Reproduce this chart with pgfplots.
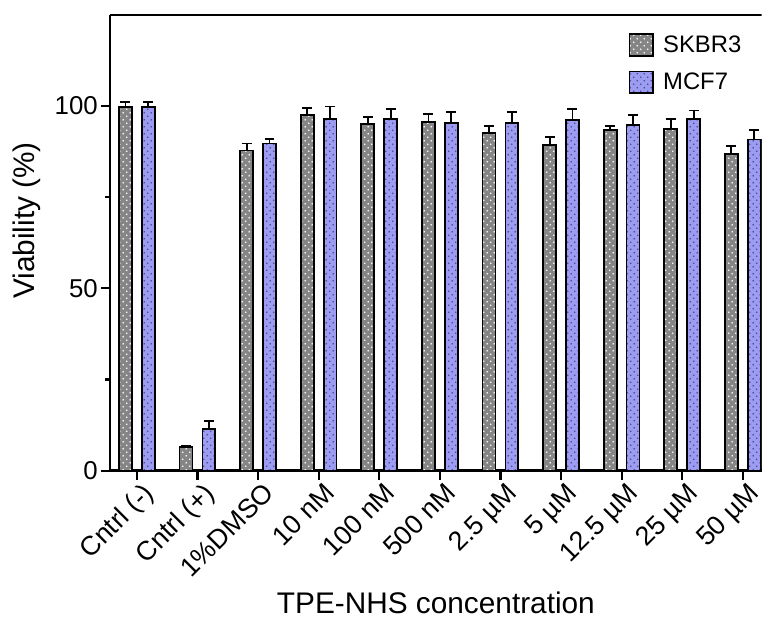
\documentclass[border=0pt]{standalone}
\usepackage{pgfplots}
\usepackage{pgfplotstable}
\pgfplotsset{compat=1.18}
\usepackage{fontspec}
\setmainfont{Liberation Sans}
\usetikzlibrary{patterns.meta}
\definecolor{barGray}{HTML}{858585}
\definecolor{barBlue}{HTML}{9C9CF2}
\definecolor{dotBlue}{HTML}{4A4A8A}
\tikzdeclarepattern{
  name=mydots,
  type=uncolored,
  bottom left={(0pt,0pt)},
  top right={(7pt,7pt)},
  tile size={(7pt,7pt)},
  code={\fill (1.75pt,1.75pt) circle (0.9pt); \fill (5.25pt,5.25pt) circle (0.9pt);}
}
\pgfplotstableread{
x y e
0 99.7 1.5
1 6.5 0.3
2 87.8 1.9
3 97.6 1.9
4 95.1 1.9
5 95.7 2.1
6 92.7 1.9
7 89.4 2.2
8 93.5 1.1
9 93.8 2.6
10 86.8 2.3
}\skbr
\pgfplotstableread{
x y e
0 99.7 1.3
1 11.4 2.2
2 89.7 1.3
3 96.4 3.5
4 96.4 2.8
5 95.4 3.0
6 95.4 3.0
7 96.2 3.0
8 94.8 2.8
9 96.5 2.3
10 90.8 2.6
}\mcf
\begin{document}
\begin{tikzpicture}
\begin{axis}[
  width=656pt, height=459pt, scale only axis,
  xmin=-0.44, xmax=10.31,
  ymin=0, ymax=125,
  axis x line*=bottom, axis y line*=left,
  axis line style={line width=2.4pt},
  ytick={0,50,100},
  minor ytick={25,75},
  xtick={0,...,10},
  xticklabels={Cntrl (-),Cntrl (+),1\%DMSO,10 nM,100 nM,500 nM,2.5 µM,5 µM,12.5 µM,25 µM,50 µM},
  tick align=outside,
  major tick length=9pt,
  minor tick length=5pt,
  tick style={line width=2.2pt, black},
  /pgf/number format/assume math mode=true,
  yticklabel style={font=\fontsize{26}{30}\selectfont, xshift=0pt},
  xticklabel style={font=\fontsize{27}{31}\selectfont, rotate=45, anchor=north east, inner sep=2pt, xshift=4pt, yshift=-2pt},
  ylabel={Viability (\%)},
  ylabel style={font=\fontsize{30}{34}\selectfont, at={(axis description cs:-0.128,0.549)}, anchor=center, rotate=0},
  xlabel={TPE-NHS concentration},
  xlabel style={font=\fontsize{30}{34}\selectfont, at={(axis description cs:0.5,-0.29)}, anchor=center},
  legend style={draw=none, fill=none, at={(axis description cs:0.791,0.965)}, anchor=north west, font=\fontsize{24}{28}\selectfont, row sep=14pt},
  legend cell align=left,
  legend image code/.code={\draw[#1, line width=1.8pt] (0pt,-11pt) rectangle (24pt,11pt); \path (31pt,0pt);},
]
\addplot[ybar, bar width=13pt, bar shift=0pt, draw=black, line width=1.8pt, fill=barGray,
  postaction={pattern={mydots}, pattern color=white},
  error bars/.cd, y dir=plus, y explicit,
  error bar style={line width=1.8pt, black},
  error mark options={rotate=90, mark size=5pt, line width=1.8pt, black}]
  table[x expr=\thisrow{x}-0.1885, y=y, y error=e]{\skbr};
\addlegendentry{SKBR3}
\addplot[ybar, bar width=13pt, bar shift=0pt, draw=black, line width=1.8pt, fill=barBlue,
  postaction={pattern={mydots}, pattern color=dotBlue},
  error bars/.cd, y dir=plus, y explicit,
  error bar style={line width=1.8pt, black},
  error mark options={rotate=90, mark size=5pt, line width=1.8pt, black}]
  table[x expr=\thisrow{x}+0.1885, y=y, y error=e]{\mcf};
\addlegendentry{MCF7}
\draw[line width=2.4pt] (axis description cs:-0.01,1) -- (axis description cs:1,1);
\end{axis}
\path (current axis.south west) ++(-111pt,-151pt);
\path (current axis.north east) ++(0pt,15pt);
\end{tikzpicture}
\end{document}
